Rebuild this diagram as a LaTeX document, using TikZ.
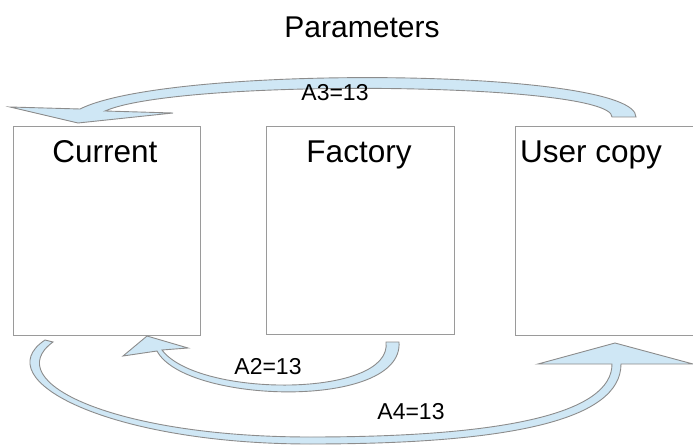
\documentclass[tikz,border=0pt]{standalone}
\usepackage{fontspec}
\setmainfont{Liberation Sans}
\definecolor{boxgray}{HTML}{9A9A9A}
\definecolor{arrowfill}{HTML}{CFE7F5}
\definecolor{arrowedge}{HTML}{8C8C8C}
\begin{document}
\begin{tikzpicture}[x=1pt,y=-1pt,
  panel/.style={draw=boxgray, line width=0.9pt, fill=white, outer sep=0pt, inner sep=0pt, anchor=north west},
  blockarrow/.style={fill=arrowfill, draw=arrowedge, line width=0.9pt, line join=miter},
  title/.style={font=\fontsize{31.5}{38}\selectfont, inner sep=0pt},
  heading/.style={font=\fontsize{30}{36}\selectfont, inner sep=0pt},
  tag/.style={font=\fontsize{23}{28}\selectfont, inner sep=0pt}]
\useasboundingbox (0,0) rectangle (693,446);
\clip (0,0) rectangle (693,446);

% the three parameter sets
\node[panel, minimum width=187pt, minimum height=209pt] (cur) at (13,126) {};
\node[panel, minimum width=188pt, minimum height=208pt] (fac) at (266,126) {};
\node[panel, minimum width=200pt, minimum height=209pt] (usr) at (515,126) {};

\node[title, anchor=base] (curtxt) at (105,163) {Current};
\node[title, anchor=base] (factxt) at (359,163) {Factory};
\node[title, anchor=base west] (usrtxt) at (520,163) {User copy};
\node[heading, anchor=base] (head) at (362,38) {Parameters};

% user copy -> current (upper arc)
\draw[blockarrow] (636,117) .. controls (636,68) and (170,64) .. (80,109)
  -- (10,107) -- (78,123) -- (173,113) -- (105,111)
  .. controls (180,78) and (612,82) .. (612,117) -- cycle;
\node[tag, anchor=base] (a3) at (335,101) {A3=13};

% factory -> current (short lower arc)
\draw[blockarrow] (399,342) .. controls (404,410) and (185,404) .. (157,351)
  -- (123,356) -- (147,336) -- (188,348) -- (162,350)
  .. controls (198,398) and (393,398) .. (386,342) -- cycle;
\node[tag, anchor=base] (a2) at (268,374) {A2=13};

% current -> user copy (long lower arc)
\draw[blockarrow] (45,340) .. controls (-15,380) and (110,444) .. (310,444)
  .. controls (510,444) and (621,420) .. (621,364)
  -- (693,364) -- (615,343) -- (538,364) -- (612,364)
  .. controls (612,412) and (510,437) .. (310,437)
  .. controls (115,437) and (-2,382) .. (53,342) -- cycle;
\node[tag, anchor=base] (a4) at (411,419) {A4=13};
\end{tikzpicture}
\end{document}
